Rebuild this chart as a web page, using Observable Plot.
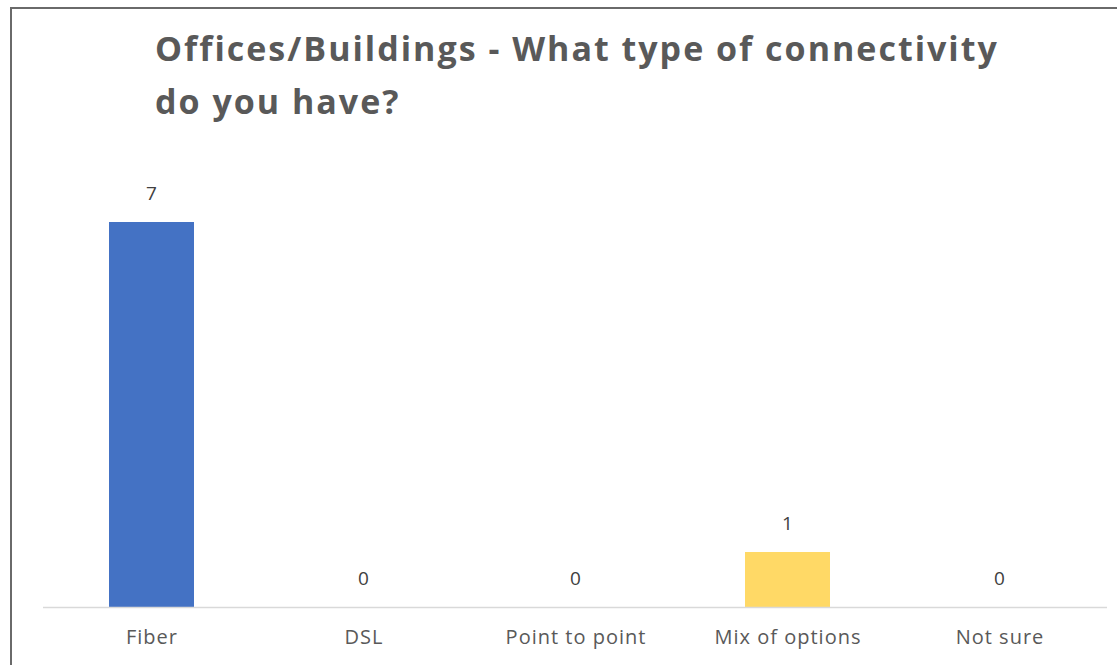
<!DOCTYPE html>
<html><head><meta charset="utf-8">
<script src="https://cdn.jsdelivr.net/npm/d3@7"></script>
<script src="https://cdn.jsdelivr.net/npm/@observablehq/plot@0.6"></script>
<style>
html,body{margin:0;padding:0;background:#fff;width:1117px;height:665px;overflow:hidden;}
#frame{position:absolute;left:10px;top:7px;width:1107px;height:658px;border-left:2px solid #6a6a6a;border-top:2px solid #6a6a6a;box-sizing:border-box;}
#title{position:absolute;left:155px;top:22px;font-family:"Open Sans";font-weight:bold;font-size:34px;letter-spacing:2px;line-height:53px;color:#595959;white-space:nowrap;}
#chart{position:absolute;left:0;top:140px;}
#chart svg text{letter-spacing:1px;}
</style>
</head><body>
<div id="frame"></div>
<div id="title">Offices/Buildings - What type of connectivity<br>do you have?</div>
<div id="chart"></div>
<script>
const categories = ["Fiber", "DSL", "Point to point", "Mix of options", "Not sure"];
const counts = [7, 0, 0, 1, 0];
const barColors = ["#4472C4", "#ED7D31", "#A5A5A5", "#FFD966", "#5B9BD5"];

const data = categories.map((c, i) => ({category: c, count: counts[i], color: barColors[i]}));

const chart = Plot.plot({
  width: 1117,
  height: 525,
  marginTop: 27,
  marginBottom: 58,
  marginLeft: 43,
  marginRight: 10,
  style: {fontFamily: "Open Sans", background: "transparent"},
  x: {domain: categories, paddingInner: 0.6, paddingOuter: 0.3, label: null},
  y: {domain: [0, 8], axis: null},
  marks: [
    Plot.barY(data, {x: "category", y: "count", fill: "color"}),
    Plot.ruleY([0], {stroke: "#d9d9d9", strokeWidth: 1.3}),
    Plot.text(data, {x: "category", y: "count", text: d => String(d.count), lineAnchor: "bottom", dy: -23, fontSize: 19, fill: "#404040"}),
    Plot.axisX({tickSize: 0, tickPadding: 22, fontSize: 20, color: "#595959", label: null})
  ]
});
document.getElementById("chart").appendChild(chart);
</script>
</body></html>
